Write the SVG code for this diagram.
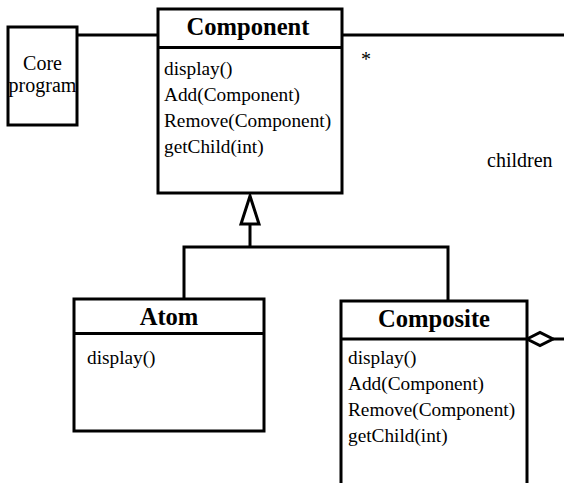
<svg xmlns="http://www.w3.org/2000/svg" width="564" height="483" viewBox="0 0 564 483">
  <style>
    .box { fill: #ffffff; stroke: #000000; stroke-width: 3; }
    .line { fill: none; stroke: #000000; stroke-width: 3; }
    .head { fill: #ffffff; stroke: #000000; stroke-width: 3; }
    .title { font-family: "Liberation Serif", "Times New Roman", serif; font-weight: bold; font-size: 24.6px; text-anchor: middle; fill: #000000; }
    .op { font-family: "Liberation Serif", "Times New Roman", serif; font-size: 19.3px; fill: #000000; }
    .label { font-family: "Liberation Serif", "Times New Roman", serif; font-size: 20px; fill: #000000; }
  </style>
  <rect width="564" height="483" fill="#ffffff"/>

  <!-- connectors -->
  <g id="connectors">
    <!-- client link -->
    <line class="line" x1="77" y1="35" x2="158" y2="35"/>
    <!-- aggregation: children -->
    <line class="line" x1="342" y1="35" x2="566" y2="35"/>
    <line class="line" x1="553" y1="339" x2="566" y2="339"/>
    <polygon class="head" points="527,339 540,332.5 553,339 540,345.5"/>
    <!-- generalization -->
    <polyline class="line" points="184,299 184,247 448,247 448,301"/>
    <line class="line" x1="250" y1="247" x2="250" y2="224"/>
    <polygon class="head" points="250,196 241,224 259,224"/>
    <text class="label" x="361" y="66" font-size="21">*</text>
    <text class="label" x="487" y="167" font-size="20.6">children</text>
  </g>

  <g id="core-program">
    <rect class="box" x="8" y="27" width="69" height="98"/>
    <text class="label" x="42.5" y="69.5" text-anchor="middle">Core</text>
    <text class="label" x="42.5" y="91.5" text-anchor="middle">program</text>
  </g>

  <g id="component">
    <rect class="box" x="158" y="9" width="184" height="184"/>
    <line class="line" x1="158" y1="47.5" x2="342" y2="47.5"/>
    <text class="title" x="248" y="35">Component</text>
    <text class="op" x="164" y="75">display()</text>
    <text class="op" x="164" y="101">Add(Component)</text>
    <text class="op" x="164" y="127">Remove(Component)</text>
    <text class="op" x="164" y="153">getChild(int)</text>
  </g>

  <g id="atom">
    <rect class="box" x="74" y="299" width="190" height="132"/>
    <line class="line" x1="74" y1="333.5" x2="264" y2="333.5"/>
    <text class="title" x="169" y="325">Atom</text>
    <text class="op" x="87" y="364">display()</text>
  </g>

  <g id="composite">
    <rect class="box" x="341" y="301" width="186" height="200"/>
    <line class="line" x1="341" y1="339" x2="527" y2="339"/>
    <text class="title" x="434" y="327">Composite</text>
    <text class="op" x="348" y="364">display()</text>
    <text class="op" x="348" y="390">Add(Component)</text>
    <text class="op" x="348" y="416">Remove(Component)</text>
    <text class="op" x="348" y="442">getChild(int)</text>
  </g>
</svg>
